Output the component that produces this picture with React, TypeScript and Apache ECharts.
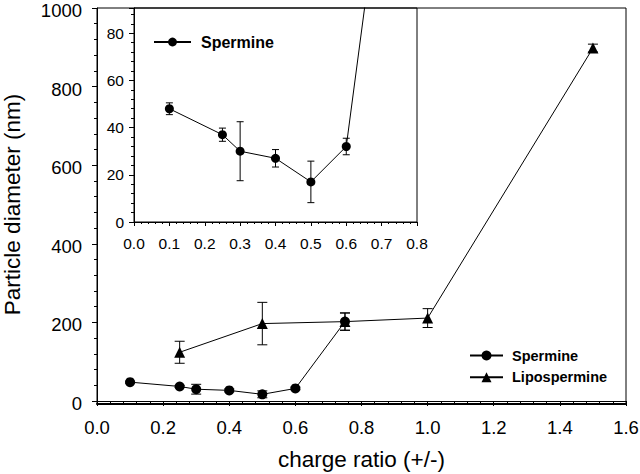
import React, { useEffect, useRef } from "react";
import * as echarts from "echarts";

// ---- data ----
const spermineRatio = [0.1, 0.25, 0.3, 0.4, 0.5, 0.6, 0.75];
const spermineDiam = [48, 37, 30, 27, 17, 32, 202];
const spermineErr = [2.5, 2.8, 12.5, 3.7, 8.8, 3.5, 22];

const lipoRatio = [0.25, 0.5, 0.75, 1.0, 1.5];
const lipoDiam = [124, 197, 202, 211, 898];
const lipoErr = [28, 54, 22, 24, 10];

const seriesNames = ["Spermine", "Lipospermine"];
const xTitle = "charge ratio (+/-)";
const yTitle = "Particle diameter (nm)";

const FONT = "'Liberation Sans', Arial, Helvetica, sans-serif";

function pairs(xs: number[], ys: number[]) {
  return xs.map((x, i) => [x, ys[i]]);
}
function errRows(xs: number[], ys: number[], es: number[]) {
  return xs.map((x, i) => [x, ys[i] - es[i], ys[i] + es[i]]);
}

function errorRender(cap: number, yMax: number) {
  return (params: any, api: any) => {
    const x = api.value(0);
    const lo = api.value(1);
    const hi = api.value(2);
    if (lo > yMax) return null;
    const p1 = api.coord([x, hi]);
    const p2 = api.coord([x, lo]);
    const style = { stroke: "#000", lineWidth: 1 };
    return {
      type: "group",
      children: [
        { type: "line", shape: { x1: p1[0], y1: p1[1], x2: p2[0], y2: p2[1] }, style },
        { type: "line", shape: { x1: p1[0] - cap / 2, y1: p1[1], x2: p1[0] + cap / 2, y2: p1[1] }, style },
        { type: "line", shape: { x1: p2[0] - cap / 2, y1: p2[1], x2: p2[0] + cap / 2, y2: p2[1] }, style },
      ],
    };
  };
}

export default function App() {
  const ref = useRef<HTMLDivElement>(null);

  useEffect(() => {
    document.body.style.margin = "0";
    const chart = echarts.init(ref.current!, null, { renderer: "svg" });
    const black = "#000";
    const axisCommon = {
      splitLine: { show: false },
      axisLine: { show: true, lineStyle: { color: black, width: 1 } },
    };

    const option: any = {
      animation: false,
      backgroundColor: "#fff",
      textStyle: { fontFamily: FONT, color: black },
      grid: [
        { left: 97, right: 14, top: 8, bottom: 73, outerBoundsMode: "none" },
        {
          left: 134, right: 223, top: 8, bottom: 252, show: true,
          backgroundColor: "#fff", borderColor: black, borderWidth: 1, outerBoundsMode: "none",
        },
        {
          left: 97, right: 14, top: 8, bottom: 70, show: true,
          backgroundColor: "transparent", borderColor: black, borderWidth: 1, outerBoundsMode: "none",
        },
      ],
      xAxis: [
        {
          gridIndex: 0, type: "value", min: 0, max: 1.6, interval: 0.2, offset: 3,
          ...axisCommon,
          axisTick: { show: true, inside: false, length: 5, lineStyle: { color: black } },
          minorTick: { show: true, splitNumber: 5, length: 3, lineStyle: { color: black } },
          axisLabel: {
            color: black, fontSize: 18.5, fontFamily: FONT, margin: 14,
            formatter: (v: number) => v.toFixed(1),
          },
          name: xTitle, nameLocation: "middle", nameGap: 44,
          nameTextStyle: { fontSize: 22.5, fontFamily: FONT, color: black },
        },
        {
          gridIndex: 1, type: "value", min: 0, max: 0.8, interval: 0.1,
          ...axisCommon,
          axisTick: { show: true, inside: false, length: 4, lineStyle: { color: black } },
          minorTick: { show: true, splitNumber: 5, length: 2, lineStyle: { color: black } },
          axisLabel: {
            color: black, fontSize: 15.5, fontFamily: FONT, margin: 13,
            formatter: (v: number) => v.toFixed(1),
          },
        },
        {
          gridIndex: 2, type: "value", min: 0, max: 1, position: "top",
          axisLine: { show: true, lineStyle: { color: black, width: 2 } },
          axisTick: { show: false }, axisLabel: { show: false }, splitLine: { show: false },
        },
      ],
      yAxis: [
        {
          gridIndex: 0, type: "value", min: 0, max: 1000, interval: 200,
          ...axisCommon,
          axisTick: { show: true, inside: false, length: 5, lineStyle: { color: black } },
          minorTick: { show: true, splitNumber: 5, length: 3, lineStyle: { color: black } },
          axisLabel: {
            color: black, fontSize: 18.5, fontFamily: FONT, margin: 15,
            verticalAlign: "top", lineHeight: 5,
            formatter: (v: number) => String(v),
          },
          name: yTitle, nameLocation: "middle", nameGap: 73, nameRotate: 90,
          nameTextStyle: { fontSize: 22.5, fontFamily: FONT, color: black },
        },
        {
          gridIndex: 1, type: "value", min: 0, max: 90.7, interval: 20,
          ...axisCommon,
          axisTick: { show: true, inside: false, length: 5, lineStyle: { color: black } },
          minorTick: { show: true, splitNumber: 5, length: 3, lineStyle: { color: black } },
          axisLabel: {
            color: black, fontSize: 15.5, fontFamily: FONT, margin: 10, showMaxLabel: false,
            formatter: (v: number) => String(v),
          },
        },
        {
          gridIndex: 2, type: "value", min: 0, max: 1, show: false,
        },
      ],
      legend: [
        {
          data: seriesNames,
          orient: "vertical",
          left: 469, top: 348, padding: 0,
          itemWidth: 33, itemHeight: 12.5, itemGap: 6.7,
          textStyle: { fontSize: 14.5, fontWeight: "bold", fontFamily: FONT, color: black, lineHeight: 14, padding: [0, 0, 0, 4] },
          selectedMode: false,
        },
        {
          data: [seriesNames[0]],
          orient: "vertical",
          left: 153, top: 34, padding: 0,
          itemWidth: 37, itemHeight: 11,
          textStyle: { fontSize: 16, fontWeight: "bold", fontFamily: FONT, color: black, lineHeight: 16, padding: [0, 0, 0, 5] },
          selectedMode: false,
        },
      ],
      series: [
        {
          name: seriesNames[1], type: "line", xAxisIndex: 0, yAxisIndex: 0,
          data: pairs(lipoRatio, lipoDiam),
          symbol: "triangle", symbolSize: 11,
          itemStyle: { color: black }, lineStyle: { color: black, width: 1 }, z: 3,
        },
        {
          name: seriesNames[0], type: "line", xAxisIndex: 0, yAxisIndex: 0,
          data: pairs(spermineRatio, spermineDiam),
          symbol: "circle", symbolSize: 10,
          itemStyle: { color: black }, lineStyle: { color: black, width: 1 }, z: 4,
        },
        {
          name: "lipoErr", type: "custom", xAxisIndex: 0, yAxisIndex: 0,
          data: errRows(lipoRatio, lipoDiam, lipoErr),
          encode: { x: 0, y: [1, 2] },
          renderItem: errorRender(10, 1000), z: 2, clip: true,
        },
        {
          name: "spermineErr", type: "custom", xAxisIndex: 0, yAxisIndex: 0,
          data: errRows(spermineRatio, spermineDiam, spermineErr),
          encode: { x: 0, y: [1, 2] },
          renderItem: errorRender(10, 1000), z: 2, clip: true,
        },
        {
          name: seriesNames[0], type: "line", xAxisIndex: 1, yAxisIndex: 1,
          data: pairs(spermineRatio, spermineDiam),
          symbol: "circle", symbolSize: 9, clip: true,
          itemStyle: { color: black }, lineStyle: { color: black, width: 1 }, z: 4,
        },
        {
          name: "spermineErrInset", type: "custom", xAxisIndex: 1, yAxisIndex: 1,
          data: errRows(spermineRatio, spermineDiam, spermineErr),
          encode: { x: 0, y: [1, 2] },
          renderItem: errorRender(7, 90.7), z: 2, clip: true,
        },
      ],
    };
    chart.setOption(option);
    return () => chart.dispose();
  }, []);

  return <div ref={ref} style={{ width: 640, height: 474 }} />;
}
